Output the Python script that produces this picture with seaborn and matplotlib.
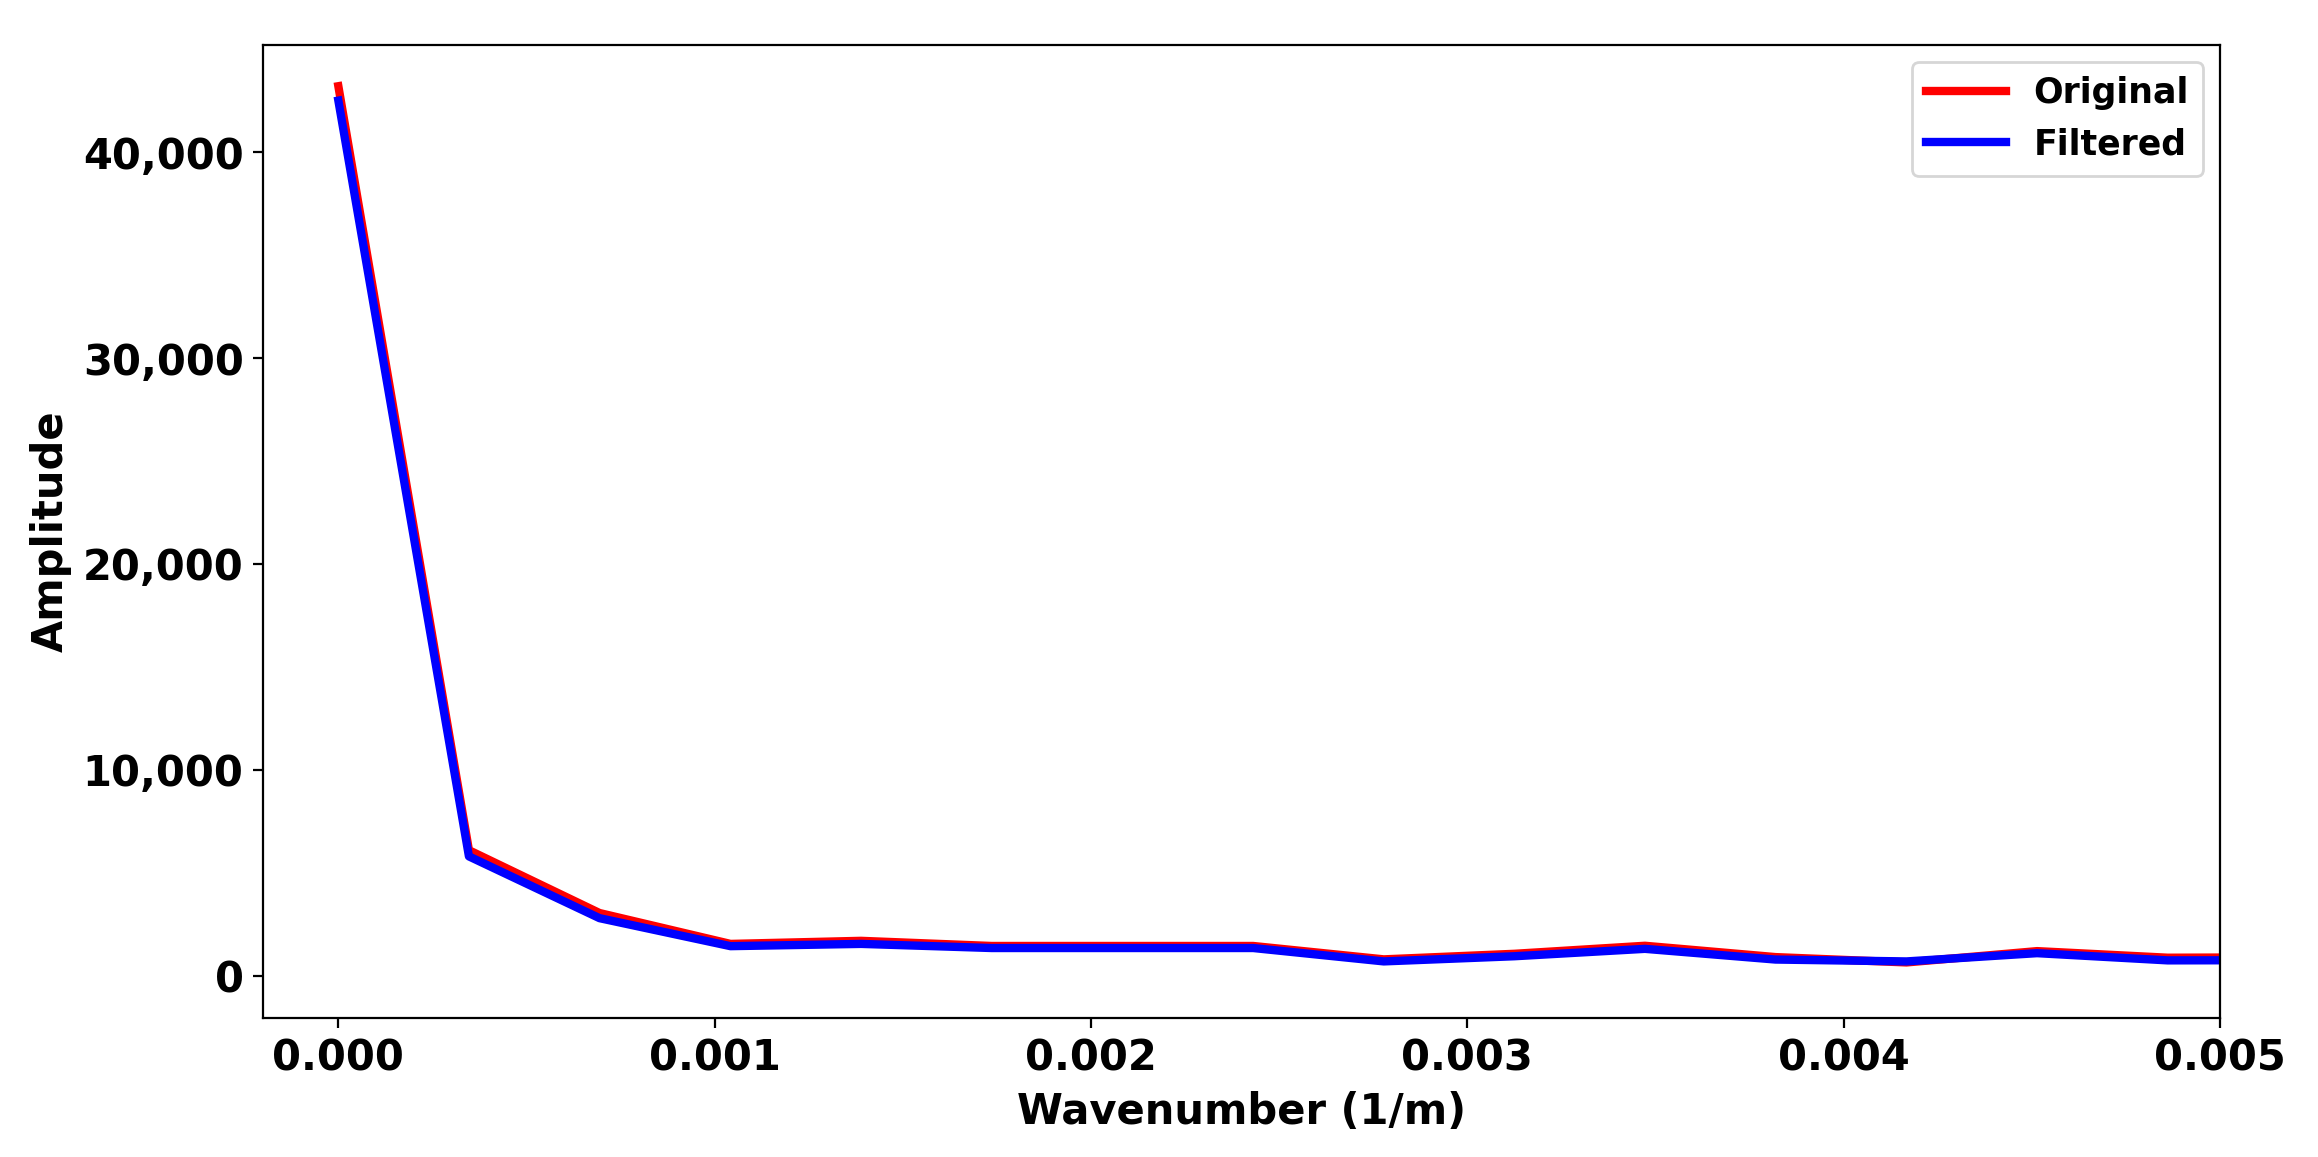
import numpy as np
import pandas as pd
import seaborn as sns
import matplotlib.pyplot as plt
from matplotlib.ticker import FuncFormatter

# wavenumber bins (1/m), spacing 1/2880
wavenumber = [0.0, 0.000347, 0.000694, 0.001042, 0.001389, 0.001736, 0.002083,
              0.002431, 0.002778, 0.003125, 0.003472, 0.003819, 0.004167,
              0.004514, 0.004861, 0.005208]
original = [43200, 6100, 3050, 1550, 1700, 1450, 1450, 1450, 800, 1070,
            1460, 910, 650, 1200, 880, 900]
filtered = [42500, 5800, 2800, 1440, 1550, 1350, 1350, 1350, 700, 950,
            1310, 790, 700, 1100, 750, 760]

df = pd.DataFrame({"k": wavenumber, "orig": original, "filt": filtered})

plt.rcParams['font.family'] = ['DejaVu Sans']
plt.rcParams['font.weight'] = 'bold'

fig = plt.figure(figsize=(11.59, 5.785), dpi=200)
ax = fig.add_axes([0.1135, 0.1201, 0.8442, 0.841])

sns.lineplot(data=df, x="k", y="orig", color="red", linewidth=3, label="Original", ax=ax)
sns.lineplot(data=df, x="k", y="filt", color="blue", linewidth=3, label="Filtered", ax=ax)

ax.set_xlim(-0.0002, 0.005)
ax.set_ylim(-2050, 45200)
ax.set_xticks([0.0, 0.001, 0.002, 0.003, 0.004, 0.005])
ax.xaxis.set_major_formatter(FuncFormatter(lambda v, p: f"{v:.3f}"))
ax.yaxis.set_major_formatter(FuncFormatter(lambda v, p: f"{v:,.0f}"))

ax.set_xlabel("Wavenumber (1/m)", fontsize=15, fontweight='bold')
ax.set_ylabel("Amplitude", fontsize=15, fontweight='bold')
ax.tick_params(labelsize=15)
for lab in ax.get_xticklabels() + ax.get_yticklabels():
    lab.set_fontweight('bold')

ax.legend(loc="upper right", prop={'weight': 'bold', 'size': 12.5}, handlelength=2.3)

fig.savefig("out.png", dpi=200)
